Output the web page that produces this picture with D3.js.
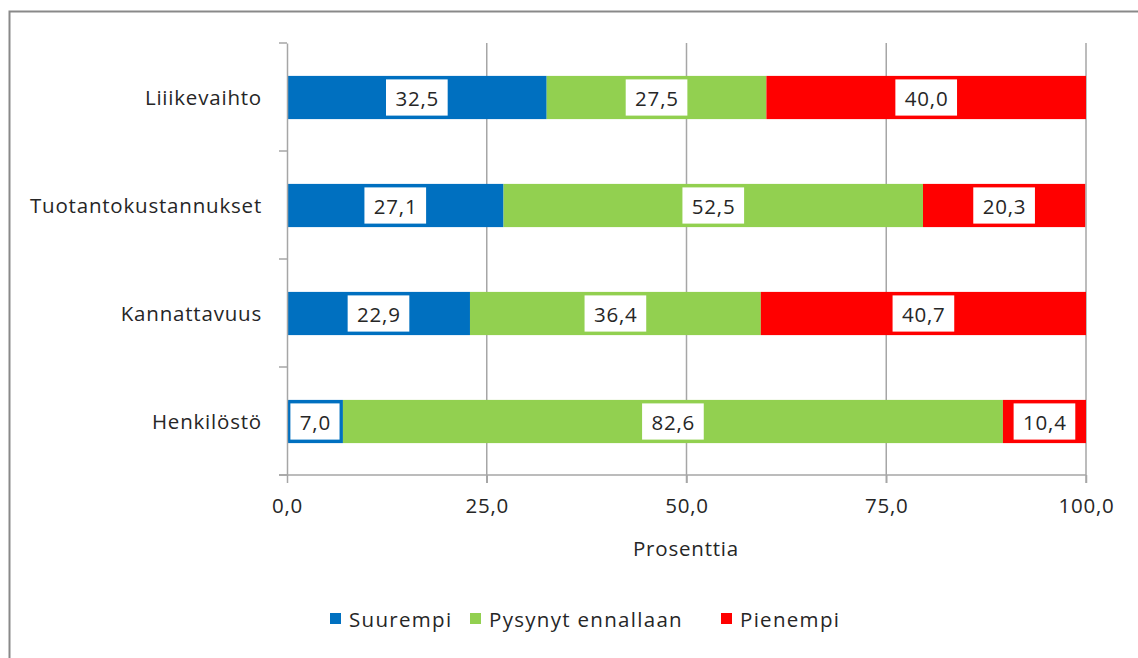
<!DOCTYPE html>
<html><head><meta charset="utf-8">
<script src="https://cdn.jsdelivr.net/npm/d3@7"></script>
<style>
body{margin:0;background:#fff;}
svg{display:block;font-family:"Open Sans",Lato,sans-serif;}
svg text{letter-spacing:0.8px;}
</style></head>
<body><svg id="c" width="1138" height="658"></svg>
<script>
const categories = ["Liiikevaihto","Tuotantokustannukset","Kannattavuus","Henkilöstö"];
const seriesNames = ["Suurempi","Pysynyt ennallaan","Pienempi"];
const suurempi = [32.5,27.1,22.9,7.0];
const pysynyt = [27.5,52.5,36.4,82.6];
const pienempi = [40.0,20.3,40.7,10.4];
const xTicks = [0,25,50,75,100];
const colors = ["#0070C0","#92D050","#FF0000"];
const axisTitle = "Prosenttia";

const svg = d3.select("#c");
const FONT = 20.5;
svg.append("rect").attr("x",9.5).attr("y",11.5).attr("width",1140).attr("height",660)
  .attr("fill","#fff").attr("stroke","#898989").attr("stroke-width",2);

const x = d3.scaleLinear().domain([0,100]).range([287,1086]);
const y = d3.scaleBand().domain(categories).range([43,475]).padding(0);
const barH = y.bandwidth()*0.4;
const fmt = v => d3.format(".1f")(v).replace(".",",");

// gridlines
svg.append("g").selectAll("line").data(xTicks.slice(1)).join("line")
  .attr("x1",d=>x(d)).attr("x2",d=>x(d)).attr("y1",43).attr("y2",483)
  .attr("stroke","#A6A6A6").attr("stroke-width",1.5);

const seriesVals = [suurempi,pysynyt,pienempi];
const rows = categories.map((c,i)=>({cat:c, vals:seriesVals.map(s=>s[i])}));
const stack = d3.stack().keys([0,1,2]).value((d,k)=>d.vals[k]);
const stacked = stack(rows);

const gBars = svg.append("g");
stacked.forEach((layer,k)=>{
  gBars.append("g").selectAll("rect").data(layer).join("rect")
    .attr("x",d=>x(d[0])).attr("width",d=>x(d[1])-x(d[0]))
    .attr("y",d=>y(d.data.cat)+(y.bandwidth()-barH)/2+0.5).attr("height",barH)
    .attr("fill",colors[k]);
});

// axes
const yAxis = svg.append("g").attr("transform","translate(287,0)")
  .call(d3.axisLeft(y).tickSize(0).tickFormat(""));
yAxis.select(".domain").attr("stroke","#A6A6A6").attr("stroke-width",1.5);
const bounds = [43].concat(categories.map(c=>y(c)+y.bandwidth()));
svg.append("g").selectAll("line").data(bounds).join("line")
  .attr("x1",279).attr("x2",287).attr("y1",d=>d).attr("y2",d=>d)
  .attr("stroke","#A6A6A6").attr("stroke-width",1.5);
svg.append("g").selectAll("text").data(categories).join("text")
  .attr("x",262).attr("y",d=>y(d)+y.bandwidth()/2).attr("text-anchor","end")
  .attr("dominant-baseline","central").attr("font-size",FONT).attr("fill","#262626").text(d=>d);

const xAxis = svg.append("g").attr("transform","translate(0,475)")
  .call(d3.axisBottom(x).tickValues(xTicks).tickSize(8).tickPadding(15).tickFormat(fmt));
xAxis.select(".domain").remove();
xAxis.selectAll(".tick line").attr("stroke","#A6A6A6").attr("stroke-width",1.5);
xAxis.selectAll("text").attr("font-size",FONT).attr("fill","#262626").attr("font-family","Open Sans");
svg.append("line").attr("x1",279).attr("x2",1086).attr("y1",475).attr("y2",475)
  .attr("stroke","#A6A6A6").attr("stroke-width",1.5);
svg.append("text").attr("x",686).attr("y",556).attr("text-anchor","middle")
  .attr("font-size",FONT).attr("fill","#262626").text(axisTitle);

// value labels
stacked.forEach((layer,k)=>{
  layer.forEach(d=>{
    const cx = (x(d[0])+x(d[1]))/2;
    const cy = y(d.data.cat)+y.bandwidth()/2+0.5;
    const g = svg.append("g");
    const t = g.append("text").attr("x",cx+0.4).attr("y",cy).attr("text-anchor","middle")
      .attr("dominant-baseline","central").attr("font-size",FONT).attr("fill","#262626")
      .text(fmt(d[1]-d[0]));
    const w = Math.min(t.node().getComputedTextLength()+20, x(d[1])-x(d[0])-2);
    const h = barH-5;
    g.insert("rect","text").attr("x",cx-w/2).attr("y",cy-h/2).attr("width",w).attr("height",h)
      .attr("fill","#fff").attr("stroke",colors[k]).attr("stroke-width",2);
  });
});

// legend
const legX = [330,470,721];
const leg = svg.append("g");
seriesNames.forEach((n,k)=>{
  leg.append("rect").attr("x",legX[k]).attr("y",613).attr("width",11).attr("height",11).attr("fill",colors[k]);
  leg.append("text").attr("x",legX[k]+19).attr("y",619).attr("dominant-baseline","central")
    .attr("font-size",FONT).attr("fill","#262626").style("letter-spacing","1.3px").text(n);
});
</script></body></html>
